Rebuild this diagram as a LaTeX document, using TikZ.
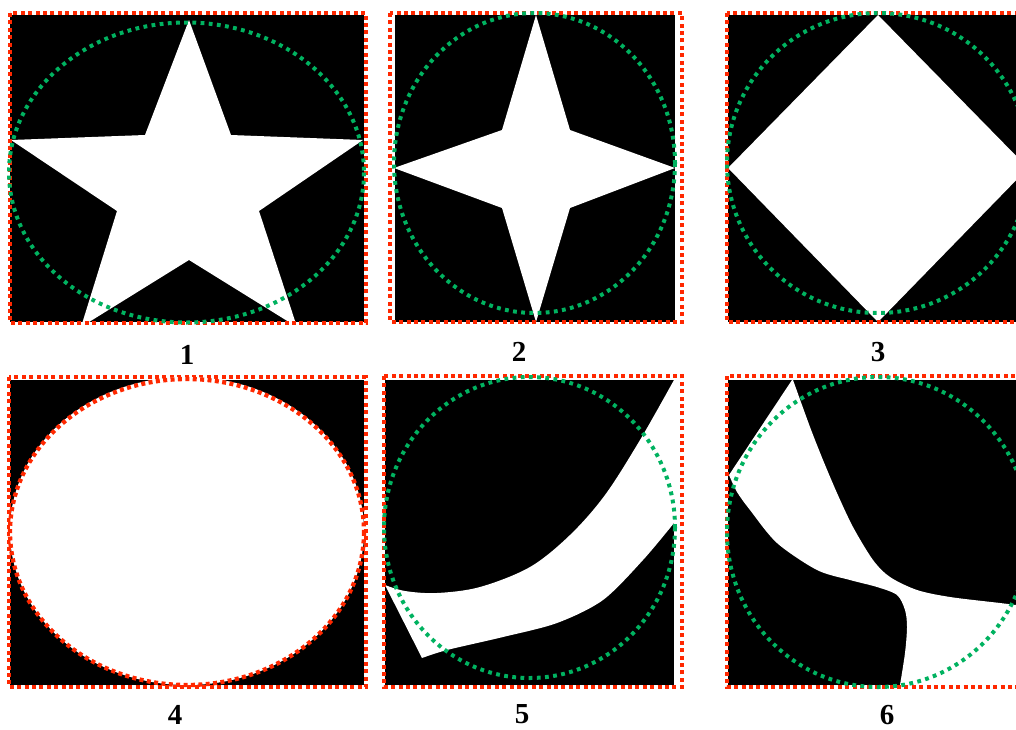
\documentclass[tikz,border=0pt]{standalone}
\usepackage{fontspec}
\setmainfont{Liberation Serif}
\definecolor{bordred}{RGB}{255,40,0}
\definecolor{circgreen}{RGB}{0,178,96}
\begin{document}
\begin{tikzpicture}[x=1pt,y=-1pt,
  panel/.style={fill=black},
  shapefill/.style={fill=white},
  redframe/.style={draw=bordred,line width=4.3pt,dash pattern=on 4pt off 3.4pt},
  greenring/.style={draw=circgreen,line width=4pt,dash pattern=on 3.8pt off 4.4pt},
  lab/.style={inner sep=0pt,font=\bfseries\fontsize{29}{29}\selectfont}]
\useasboundingbox (0,0) rectangle (1016,729);
\clip (0,0) rectangle (1016,729);

% panel 1
\fill[panel] (10,15) rectangle (364,322);
\fill[shapefill] (189,20) -- (231,135) -- (363,140) -- (259,211) -- (297,327) -- (189,260) -- (81,327) -- (117,211) -- (11,140) -- (145,135) -- cycle;
\draw[redframe] (10,13) rectangle (366,323);
\draw[greenring] (186.5,172.5) ellipse [x radius=177.5, y radius=150];

% panel 2
\fill[panel] (395,15) rectangle (675,322);
\fill[shapefill] (536,15) -- (570,130) -- (675,168) -- (570,208) -- (536,322) -- (502,208) -- (394,168) -- (502,130) -- cycle;
\draw[redframe] (390,13) rectangle (682,322);
\draw[greenring] (534.5,163) ellipse [x radius=140.5, y radius=150];

% panel 3
\fill[panel] (728,15) rectangle (1030,322);
\fill[shapefill] (878,15) -- (1028,168) -- (878,322) -- (728,168) -- cycle;
\draw[redframe] (727,13) rectangle (1030,322);
\draw[greenring] (878,163) ellipse [x radius=151, y radius=150];

% panel 4
\fill[panel] (10,380) rectangle (364,685);
\draw[redframe] (9,377) rectangle (366,687);
\fill[shapefill] (187,531) ellipse [x radius=177, y radius=154];
\draw[redframe] (187,532) ellipse [x radius=177, y radius=153];

% panel 5
\fill[panel] (385,380) rectangle (674,685);
\fill[shapefill] plot[smooth,tension=0.55] coordinates {(674,380) (640,440) (605,495) (570,535) (530,567) (480,587) (437,593) (405,591) (385,585)} -- (422,658) -- plot[smooth,tension=0.5] coordinates {(422,658) (447,650) (503,637) (557,623) (603,600) (643,560) (674,523)} -- cycle;
\draw[redframe] (384,376) rectangle (682,687);
\draw[greenring] (529.5,527.5) ellipse [x radius=145.5, y radius=150.5];

% panel 6
\fill[panel] (728,380) rectangle (1030,685);
\fill[shapefill] (792,380) -- (729,475) -- plot[smooth,tension=0.5] coordinates {(729,475) (737,492) (750,510) (777,543) (817,570) (850,580) (877,587) (897,595) (905,610) (907,627) (905,653) (900,685)} -- (1030,685) -- (1030,606) -- plot[smooth,tension=0.5] coordinates {(1016,605) (1000,603) (950,597) (917,590) (890,577) (873,560) (853,527) (837,493) (823,460) (810,427) (793,380)} -- cycle;
\draw[redframe] (727,376) rectangle (1030,687);
\draw[greenring] (878,532) ellipse [x radius=151, y radius=155];

% labels
\node[lab] (l1) at (187,355) {1};
\node[lab] (l2) at (519,352) {2};
\node[lab] (l3) at (878,352) {3};
\node[lab] (l4) at (175,715) {4};
\node[lab] (l5) at (522,714) {5};
\node[lab] (l6) at (887,715) {6};
\end{tikzpicture}
\end{document}
